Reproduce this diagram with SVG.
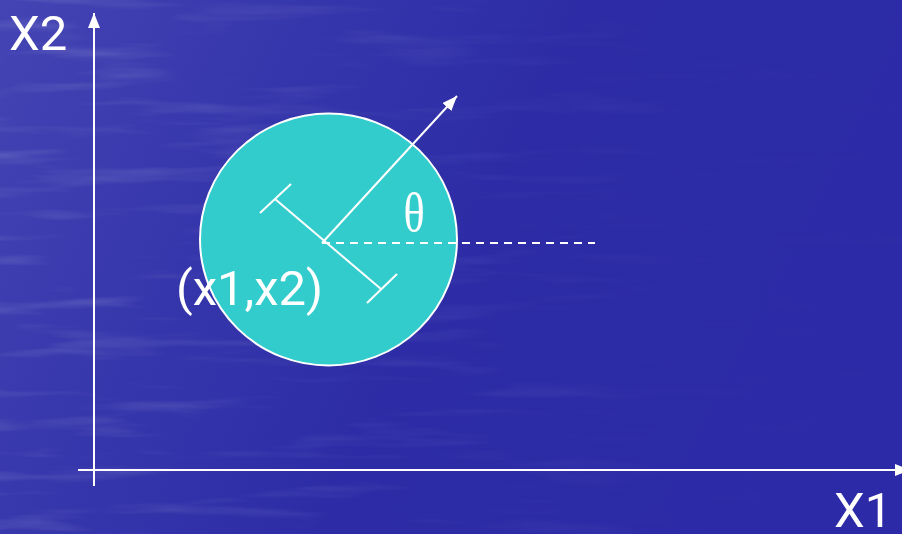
<svg xmlns="http://www.w3.org/2000/svg" width="902" height="534" viewBox="0 0 902 534">
  <defs>
    <linearGradient id="bg" x1="0" y1="0" x2="1" y2="0.3">
      <stop offset="0" stop-color="#4444b4"/>
      <stop offset="0.35" stop-color="#3535ab"/>
      <stop offset="0.6" stop-color="#2d2ca6"/>
      <stop offset="1" stop-color="#2c2aa6"/>
    </linearGradient>
    <linearGradient id="fade" x1="0" y1="0" x2="1" y2="0">
      <stop offset="0" stop-color="#fff" stop-opacity="1"/>
      <stop offset="0.45" stop-color="#fff" stop-opacity="0.5"/>
      <stop offset="0.75" stop-color="#fff" stop-opacity="0.1"/>
      <stop offset="1" stop-color="#fff" stop-opacity="0.05"/>
    </linearGradient>
    <mask id="fadeMask">
      <rect width="902" height="534" fill="url(#fade)"/>
    </mask>
    <filter id="water" x="0" y="0" width="100%" height="100%">
      <feTurbulence type="fractalNoise" baseFrequency="0.006 0.06" numOctaves="3" seed="7" result="n"/>
      <feColorMatrix in="n" type="matrix" values="0 0 0 0 1  0 0 0 0 1  0 0 0 0 1  0 0 0 1.6 -0.85"/>
    </filter>
    <marker id="ah" viewBox="0 0 15 12" refX="15" refY="6" markerWidth="7.5" markerHeight="6" markerUnits="strokeWidth" orient="auto">
      <path d="M0,0 L15,6 L0,12 z" fill="#ffffff"/>
    </marker>
    <style>
      .ln { stroke: #ffffff; stroke-width: 2; fill: none; }
      .lbl { font-family: Roboto, "Open Sans", "Liberation Sans", sans-serif; font-size: 49px; fill: #ffffff; }
      .greek { font-family: "Liberation Serif", "DejaVu Serif", serif; font-size: 54px; fill: #ffffff; }
    </style>
  </defs>

  <g id="background">
    <rect width="902" height="534" fill="url(#bg)"/>
    <rect width="902" height="534" filter="url(#water)" mask="url(#fadeMask)" opacity="0.25"/>
  </g>

  <g id="connectors">
    <line id="axis-x2" class="ln" x1="94" y1="486" x2="94" y2="13" marker-end="url(#ah)"/>
    <line id="axis-x1" class="ln" x1="78" y1="470" x2="910" y2="470" marker-end="url(#ah)"/>
  </g>

  <g id="object">
    <ellipse cx="328.5" cy="239.5" rx="128.5" ry="126" fill="#33cccc" stroke="#ffffff" stroke-width="2"/>
    <line class="ln" x1="322" y1="243" x2="595" y2="243" stroke-dasharray="8 6"/>
    <line class="ln" x1="322" y1="243" x2="457" y2="96" marker-end="url(#ah)"/>
    <line class="ln" x1="275" y1="199" x2="381" y2="289"/>
    <line class="ln" x1="260" y1="213" x2="291" y2="184"/>
    <line class="ln" x1="367" y1="303" x2="397" y2="274"/>
    <text class="greek" transform="translate(414 231) scale(0.82 1)" text-anchor="middle">θ</text>
  </g>

  <g id="label-center"><text class="lbl" x="176" y="305">(x1,x2)</text></g>
  <g id="label-x2"><text class="lbl" x="9" y="50">X2</text></g>
  <g id="label-x1"><text class="lbl" x="834" y="527">X1</text></g>
</svg>
